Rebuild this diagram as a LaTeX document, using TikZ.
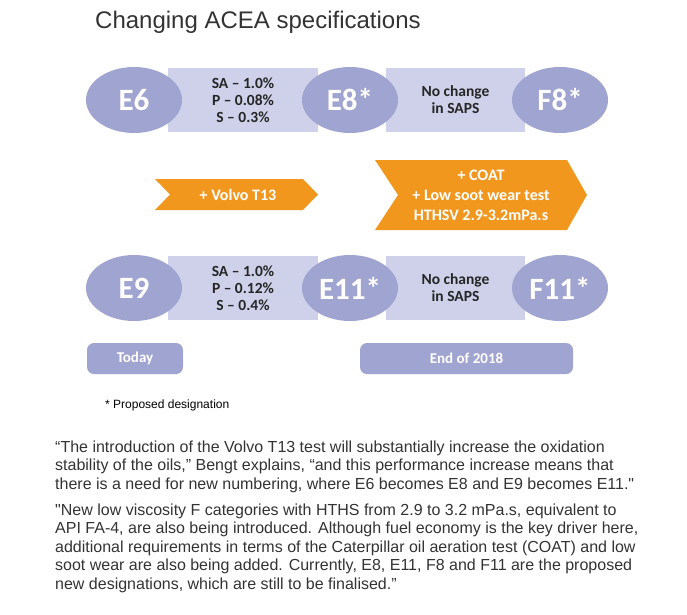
\documentclass[tikz,border=0pt]{standalone}
\usepackage{fontspec}
\setmainfont{Liberation Sans}
\newfontfamily\calibri{Carlito}
\newfontfamily\plainarial{Liberation Sans}
\usetikzlibrary{shapes.geometric}

\definecolor{specpurple}{RGB}{160,164,208}
\definecolor{speclight}{RGB}{206,209,233}
\definecolor{specorange}{RGB}{242,151,30}
\definecolor{specgray}{RGB}{51,51,51}

\begin{document}
\begin{tikzpicture}[x=1pt,y=-1pt,
    grade/.style={ellipse,fill=specpurple,minimum width=96pt,minimum height=66pt,inner sep=0pt,
        text=white,font=\calibri\bfseries\fontsize{31}{31}\selectfont},
    change/.style={rectangle,fill=speclight,minimum height=64pt,inner sep=0pt,align=center,
        text=black!85,font=\calibri\bfseries\fontsize{15.5}{17}\selectfont},
    chev/.style={fill=specorange},
    chevtext/.style={align=center,text=white,font=\calibri\bfseries\fontsize{16}{20}\selectfont},
    date/.style={rectangle,rounded corners=7pt,fill=specpurple,minimum height=31pt,inner sep=0pt,
        text=white,font=\calibri\bfseries\fontsize{15}{15}\selectfont},
    para/.style={anchor=base west,align=left,inner sep=0pt,text=specgray,
        font=\plainarial\fontsize{16}{18.5}\selectfont}]
    \useasboundingbox (0,0) rectangle (687,614);

    % title
    \node[anchor=base west,inner sep=0pt,text=specgray,font=\fontsize{24}{24}\selectfont]
        (title) at (95,28) {Changing ACEA specifications};

    % first row: boxes go under the ellipses
    \node[change,minimum width=150pt] (ch1) at (243,100)
        {SA \textendash{} 1.0\%\\P \textendash{} 0.08\%\\S \textendash{} 0.3\%};
    \node[change,minimum width=139pt] (ch2) at (455.5,100) {No change\\in SAPS};
    \node[grade] (e6) at (134,100) {E6};
    \node[grade] (e8) at (350,100) {E8*};
    \node[grade] (f8) at (560,100) {F8*};

    % the two arrows in the middle
    \fill[chev] (155,179) -- (303,179) -- (318,194.5) -- (303,210) -- (155,210) -- (170,194.5) -- cycle;
    \node[chevtext] (volvo) at (238,194.5) {+ Volvo T13};
    \fill[chev] (375,160) -- (567,160) -- (587,195) -- (567,230) -- (375,230) -- (398,195) -- cycle;
    \node[chevtext] (coat) at (481,195) {+ COAT\\+ Low soot wear test\\HTHSV 2.9-3.2mPa.s};

    % second row
    \node[change,minimum width=150pt] (ch3) at (243,288)
        {SA \textendash{} 1.0\%\\P \textendash{} 0.12\%\\S \textendash{} 0.4\%};
    \node[change,minimum width=139pt] (ch4) at (455.5,288) {No change\\in SAPS};
    \node[grade] (e9) at (134,288) {E9};
    \node[grade] (e11) at (350,288) {E11*};
    \node[grade] (f11) at (560,288) {F11*};

    % dates
    \node[date,minimum width=96pt] (today) at (135,358.5) {Today};
    \node[date,minimum width=213pt] (end) at (466.5,358.5) {End of 2018};

    \node[anchor=west,inner sep=0pt,font=\fontsize{12}{12}\selectfont] (note) at (105,405)
        {* Proposed designation};

    % the quotes (base is the last line)
    \node[para] (quote1) at (55,489) {“The introduction of the Volvo T13 test will substantially increase the oxidation\\
        stability of the oils,” Bengt explains, “and this performance increase means that\\
        there is a need for new numbering, where E6 becomes E8 and E9 becomes E11."};
    \node[para] (quote2) at (55,589) {"New low viscosity F categories with HTHS from 2.9 to 3.2 mPa.s, equivalent to\\
        API FA-4, are also being introduced. Although fuel economy is the key driver here,\\
        additional requirements in terms of the Caterpillar oil aeration test (COAT) and low\\
        soot wear are also being added. Currently, E8, E11, F8 and F11 are the proposed\\
        new designations, which are still to be finalised.”};
\end{tikzpicture}
\end{document}
